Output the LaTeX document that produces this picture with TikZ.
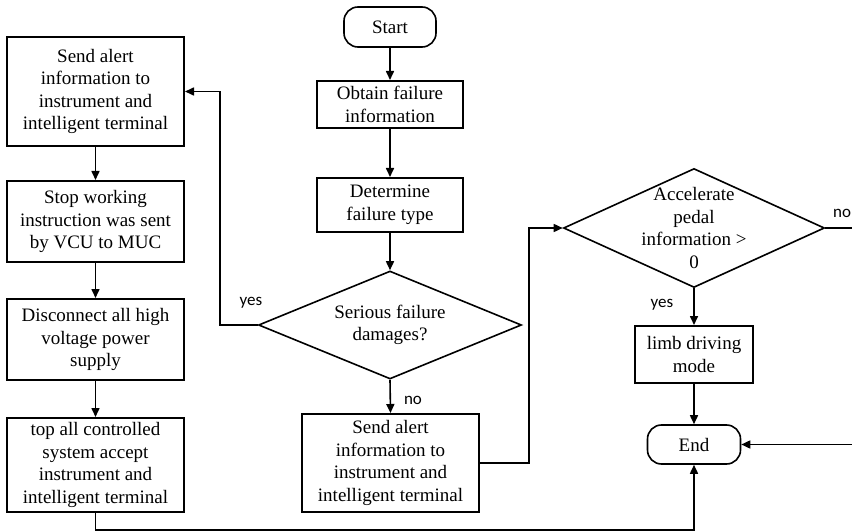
\documentclass[tikz,border=0pt]{standalone}
\usepackage{fontspec}
\setmainfont{Liberation Serif}
\newfontfamily\labelfont{Carlito}
\usetikzlibrary{shapes.geometric,arrows.meta}

\begin{document}
\begin{tikzpicture}[x=1pt,y=-1pt,
  every node/.style={font=\fontsize{19}{22.5}\selectfont},
  procbox/.style={draw,line width=2pt,align=center,inner sep=0pt},
  terminal/.style={draw,line width=1.6pt,rounded corners=14pt,align=center,inner sep=0pt},
  decision/.style={draw,line width=1.6pt,diamond,inner sep=0pt},
  flow/.style={line width=1.6pt,-{Triangle[length=9pt,width=8pt]}},
  plain/.style={line width=1.6pt},
  branch/.style={font=\labelfont\fontsize{17}{20}\selectfont,inner sep=0pt}
]
\useasboundingbox (0,0) rectangle (852,532);

% left column: serious failure handling
\node[procbox,minimum width=177pt,minimum height=109pt] (alertL) at (95.5,91.5)
  {Send alert\\information to\\instrument and\\intelligent terminal};
\node[procbox,minimum width=177pt,minimum height=81pt] (stopw) at (95.5,221.5)
  {Stop working\\instruction was sent\\by VCU to MUC};
\node[procbox,minimum width=177pt,minimum height=81pt] (disc) at (95.5,339.5)
  {Disconnect all high\\voltage power\\supply};
\node[procbox,minimum width=177pt,minimum height=94pt] (stopall) at (95.5,465)
  {top all controlled\\system accept\\instrument and\\intelligent terminal};

% middle column
\node[terminal,minimum width=92pt,minimum height=40pt] (start) at (390,27) {Start};
\node[procbox,minimum width=146pt,minimum height=47pt] (obtain) at (390,104.5)
  {Obtain failure\\information};
\node[procbox,minimum width=146pt,minimum height=54pt] (determ) at (390,205)
  {Determine\\failure type};
\node[decision,minimum width=263pt,minimum height=108pt,
  label={[align=center]center:Serious failure\\damages?}] (serious) at (390,325) {};
\node[procbox,minimum width=177pt,minimum height=98pt] (alertM) at (390.5,463)
  {Send alert\\information to\\instrument and\\intelligent terminal};

% right column
\node[decision,minimum width=261pt,minimum height=119pt,
  label={[align=center]center:Accelerate\\pedal\\information >\\0}] (accel) at (694,228) {};
\node[procbox,minimum width=118pt,minimum height=57pt] (limb) at (694,354.5)
  {limb driving\\mode};
\node[terminal,minimum width=93pt,minimum height=39pt] (endn) at (694,444.5) {End};

% free ends at the right border
\coordinate (noExit) at (852,228);
\coordinate (endIn) at (852,444.5);

% connectors
\draw[flow] (start) -- (obtain);
\draw[flow] (obtain) -- (determ);
\draw[flow] (determ) -- (serious.north);
\draw[flow] (serious.west) -- (220,325) |- (alertL.east);
\draw[flow] (serious.south) -- (alertM.north);
\draw[flow] (alertM.east) -| (529,228) -- (accel.west);
\draw[plain] (accel.east) -- (noExit);
\draw[flow] (accel.south) -- (limb.north);
\draw[flow] (limb.south) -- (endn.north);
\draw[flow] (endIn) -- (endn.east);
\draw[flow] (alertL.south) -- (stopw.north);
\draw[flow] (stopw.south) -- (disc.north);
\draw[flow] (disc.south) -- (stopall.north);
\draw[flow] (stopall.south) -- (95.5,530) -| (endn.south);

% branch labels
\node[branch] at (251,303) {yes};
\node[branch] at (413,400) {no};
\node[branch] at (662,305) {yes};
\node[branch,anchor=west] at (833,213) {no};
\end{tikzpicture}
\end{document}
